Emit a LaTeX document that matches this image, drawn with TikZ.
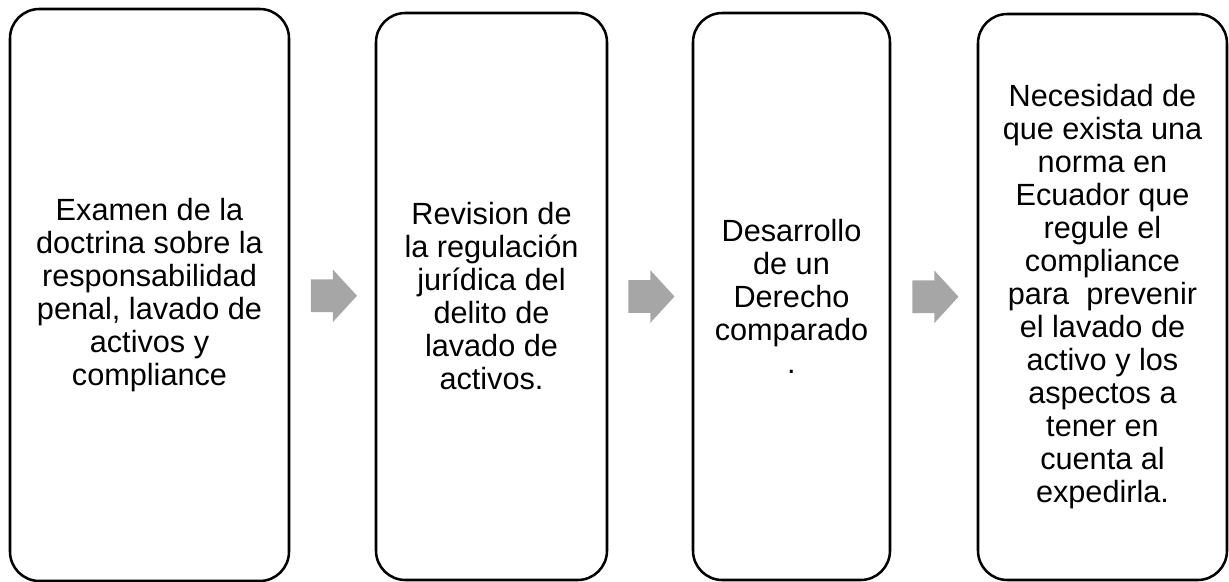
\documentclass[tikz,border=0pt]{standalone}
\usepackage{fontspec}
\setmainfont{Liberation Sans}
\usetikzlibrary{shapes.arrows,calc}
\definecolor{arrowgray}{RGB}{166,166,166}
\tikzset{
  stepbox/.style={draw=black,line width=1.9pt,rounded corners=22pt,fill=white,
    align=center,inner sep=0pt,font=\fontsize{23}{24.75}\selectfont},
  stepflow/.style={single arrow,fill=arrowgray,draw=none,inner xsep=0pt,inner ysep=12pt,
    minimum height=34.5pt,single arrow head extend=7.5pt,
    single arrow tip angle=95,xshift=-4.5pt}
}
\begin{document}
\begin{tikzpicture}[x=0.75pt,y=-0.75pt]
  \useasboundingbox (0,0) rectangle (1229,582);
  \node[stepbox,minimum width=209.25pt,minimum height=429pt] (examen) at (149.5,295)
    {Examen de la\\doctrina sobre la\\responsabilidad\\penal, lavado de\\activos y\\compliance};
  \node[stepbox,minimum width=173.25pt,minimum height=425.25pt] (revision) at (491.5,296.5)
    {Revision de\\la regulación\\jurídica del\\delito de\\lavado de\\activos.};
  \node[stepbox,minimum width=147.75pt,minimum height=425.25pt] (derecho) at (791.5,296.5)
    {Desarrollo\\de un\\Derecho\\comparado\\.};
  \node[stepbox,minimum width=186.75pt,minimum height=424.5pt] (norma) at (1102.5,297)
    {Necesidad de\\que exista una\\norma en\\Ecuador que\\regule el\\compliance\\para\ \ prevenir\\el lavado de\\activo y los\\aspectos a\\tener en\\cuenta al\\expedirla.};
  % flechas entre pasos
  \node[stepflow] (flecha1) at ($(examen.east)!0.5!(revision.west)$) {};
  \node[stepflow] (flecha2) at ($(revision.east)!0.5!(derecho.west)$) {};
  \node[stepflow] (flecha3) at ($(derecho.east)!0.5!(norma.west)$) {};
\end{tikzpicture}
\end{document}
